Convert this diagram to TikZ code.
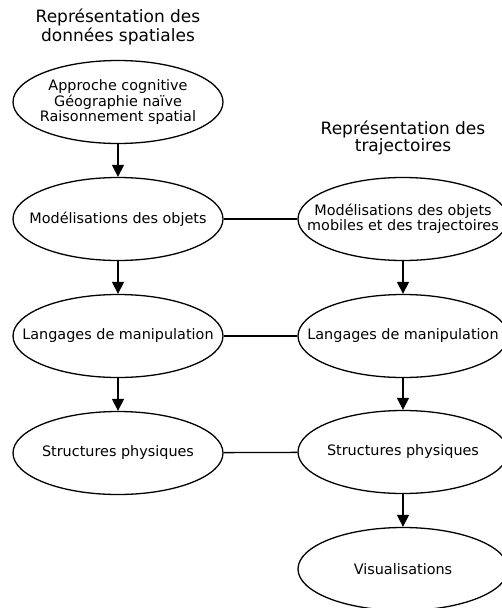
\documentclass[tikz,border=0pt]{standalone}
\usepackage{fontspec}
\setmainfont{DejaVu Sans}
\usetikzlibrary{shapes.geometric,arrows.meta}
\begin{document}
\begin{tikzpicture}[x=1pt,y=-1pt,
	etape/.style={ellipse, draw, line width=1.3pt, minimum width=210pt, minimum height=83pt, inner sep=0pt},
	texte/.style={align=center, inner sep=0pt, font=\fontsize{14.4}{13.5}\selectfont},
	titre/.style={align=center, font=\fontsize{17}{16.5}\selectfont},
	fleche/.style={line width=1.3pt, -{Triangle[length=12pt,width=12pt]}},
	lien/.style={line width=1.3pt}]
			\useasboundingbox (0,0) rectangle (502,608);
			\node[titre] (t1) at (118,27) {Représentation des\\données spatiales};
			\node[titre] (t2) at (403,138) {Représentation des\\trajectoires};
			\node[etape] (a) at (118,102) {};
			\node[etape] (b) at (118,219) {};
			\node[etape] (c) at (118,336) {};
			\node[etape] (d) at (118,453) {};
			\node[etape] (e) at (403,219) {};
			\node[etape] (f) at (403,336) {};
			\node[etape] (g) at (403,452) {};
			\node[etape] (h) at (403,569) {};
			\node[texte] (at) at (a) {Approche cognitive\\Géographie naïve\\Raisonnement spatial};
			\node[texte] (bt) at (b) {Modélisations des objets};
			\node[texte] (ct) at (c) {Langages de manipulation};
			\node[texte] (dt) at (d) {Structures physiques};
			\node[texte] (et) at (e) {Modélisations des objets\\mobiles et des trajectoires};
			\node[texte] (ft) at (f) {Langages de manipulation};
			\node[texte] (gt) at (g) {Structures physiques};
			\node[texte] (ht) at (h) {Visualisations};
			\draw[fleche] (a) -- (b);
			\draw[fleche] (b) -- (c);
			\draw[fleche] (c) -- (d);
			\draw[fleche] (e) -- (f);
			\draw[fleche] (f) -- (g);
			\draw[fleche] (g) -- (h);
			\draw[lien] (b) -- (e);
			\draw[lien] (c) -- (f);
			\draw[lien] (d) -- (g);
		\end{tikzpicture}
\end{document}
